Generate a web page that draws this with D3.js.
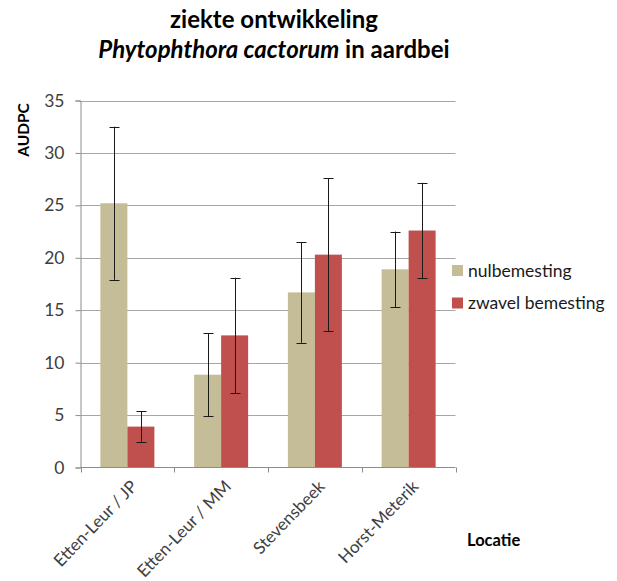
<!DOCTYPE html>
<html><head><meta charset="utf-8">
<script src="https://cdn.jsdelivr.net/npm/d3@7"></script>
<style>body{margin:0;background:#fff}svg{display:block;font-family:Lato,"Open Sans",sans-serif}</style>
</head><body><svg id="c" width="617" height="581"></svg>
<script>
const categories = ["Etten-Leur / JP", "Etten-Leur / MM", "Stevensbeek", "Horst-Meterik"];
const seriesNames = ["nulbemesting", "zwavel bemesting"];
const nulValues = [25.2, 8.85, 16.7, 18.9];
const nulErrors = [7.3, 3.95, 4.8, 3.6];
const zwavelValues = [3.9, 12.6, 20.3, 22.6];
const zwavelErrors = [1.45, 5.5, 7.3, 4.55];
const yTicks = [0, 5, 10, 15, 20, 25, 30, 35];
const colors = ["#C4BD97", "#C0504D"];

const svg = d3.select("#c");
const pLeft = 80.5, pRight = 455.5, pTop = 100.5, pBottom = 467.5;
const x = d3.scaleBand().domain(categories).range([pLeft, pRight]).paddingInner(0.424).paddingOuter(0.212);
const xs = d3.scaleBand().domain(seriesNames).range([0, x.bandwidth()]);
const y = d3.scaleLinear().domain([0, 35]).range([pBottom, pTop]);

// gridlines
svg.append("g").selectAll("line").data(yTicks.filter(d => d > 0)).join("line")
  .attr("x1", pLeft).attr("x2", pRight).attr("y1", d => Math.round(y(d)) + 0.5).attr("y2", d => Math.round(y(d)) + 0.5)
  .attr("stroke", "#a6a6a6").attr("stroke-width", 1);

// y axis
const yAxis = d3.axisLeft(y).tickValues(yTicks).tickSize(5).tickPadding(11);
const gy = svg.append("g").attr("transform", `translate(${pLeft},0)`).call(yAxis);
gy.select(".domain").attr("stroke", "#8c8c8c");
gy.selectAll(".tick line").attr("stroke", "#8c8c8c");
gy.selectAll(".tick text").attr("fill", "#404040").style("font-size", "17.5px").style("font-family", "Lato, 'Open Sans', sans-serif");

// bars
const data = categories.map((c, i) => [
  {c, s: seriesNames[0], v: nulValues[i], e: nulErrors[i], col: colors[0]},
  {c, s: seriesNames[1], v: zwavelValues[i], e: zwavelErrors[i], col: colors[1]}
]).flat();

svg.append("g").selectAll("rect").data(data).join("rect")
  .attr("x", d => x(d.c) + xs(d.s)).attr("width", xs.bandwidth())
  .attr("y", d => y(d.v)).attr("height", d => y(0) - y(d.v))
  .attr("fill", d => d.col);

// x axis
const gx = svg.append("g").attr("transform", `translate(0,${pBottom})`);
gx.append("line").attr("x1", pLeft).attr("x2", pRight).attr("stroke", "#8c8c8c");
const bounds = [0, 1, 2, 3, 4].map(i => pLeft + i * x.step());
gx.selectAll(".tk").data(bounds).join("line").attr("class", "tk")
  .attr("x1", d => Math.round(d) + 0.5).attr("x2", d => Math.round(d) + 0.5).attr("y1", 0).attr("y2", 5)
  .attr("stroke", "#8c8c8c");
gx.selectAll(".lab").data(categories).join("text").attr("class", "lab")
  .attr("transform", d => `translate(${x(d) + x.bandwidth() / 2 + 11},${20}) rotate(-46)`)
  .attr("text-anchor", "end").attr("fill", "#404040").style("font-size", "17px").text(d => d);

// error bars
const eb = svg.append("g").selectAll("g").data(data).join("g")
  .attr("stroke", "#1a1a1a").attr("stroke-width", 1);
const cx = d => Math.round(x(d.c) + xs(d.s) + xs.bandwidth() / 2) + 0.5;
eb.append("line").attr("x1", cx).attr("x2", cx).attr("y1", d => y(d.v + d.e)).attr("y2", d => y(d.v - d.e));
eb.append("line").attr("x1", d => cx(d) - 5).attr("x2", d => cx(d) + 5).attr("y1", d => Math.round(y(d.v + d.e)) + 0.5).attr("y2", d => Math.round(y(d.v + d.e)) + 0.5);
eb.append("line").attr("x1", d => cx(d) - 5).attr("x2", d => cx(d) + 5).attr("y1", d => Math.round(y(d.v - d.e)) + 0.5).attr("y2", d => Math.round(y(d.v - d.e)) + 0.5);

// legend
const lg = svg.append("g").selectAll("g").data(seriesNames).join("g")
  .attr("transform", (d, i) => `translate(452,${265 + i * 32.5})`);
lg.append("rect").attr("width", 11).attr("height", 11).attr("fill", (d, i) => colors[i]);
lg.append("text").attr("x", 16).attr("y", 11.5).attr("fill", "#1a1a1a").style("font-size", "17.5px").text(d => d);

// titles
const t = svg.append("text").attr("text-anchor", "middle").attr("fill", "#000").style("font-weight", "bold").style("font-size", "24px");
t.append("tspan").attr("x", 274).attr("y", 28).text("ziekte ontwikkeling");
const t2 = t.append("tspan").attr("x", 274).attr("y", 58);
t2.append("tspan").style("font-style", "italic").text("Phytophthora cactorum");
t2.append("tspan").text(" in aardbei");

svg.append("text").attr("transform", "translate(29,130) rotate(-90)").attr("text-anchor", "middle")
  .style("font-weight", "bold").style("font-size", "15.5px").attr("fill", "#000").text("AUDPC");
svg.append("text").attr("x", 467).attr("y", 546).style("font-weight", "bold").style("font-size", "16.5px").attr("fill", "#000").text("Locatie");
</script></body></html>
